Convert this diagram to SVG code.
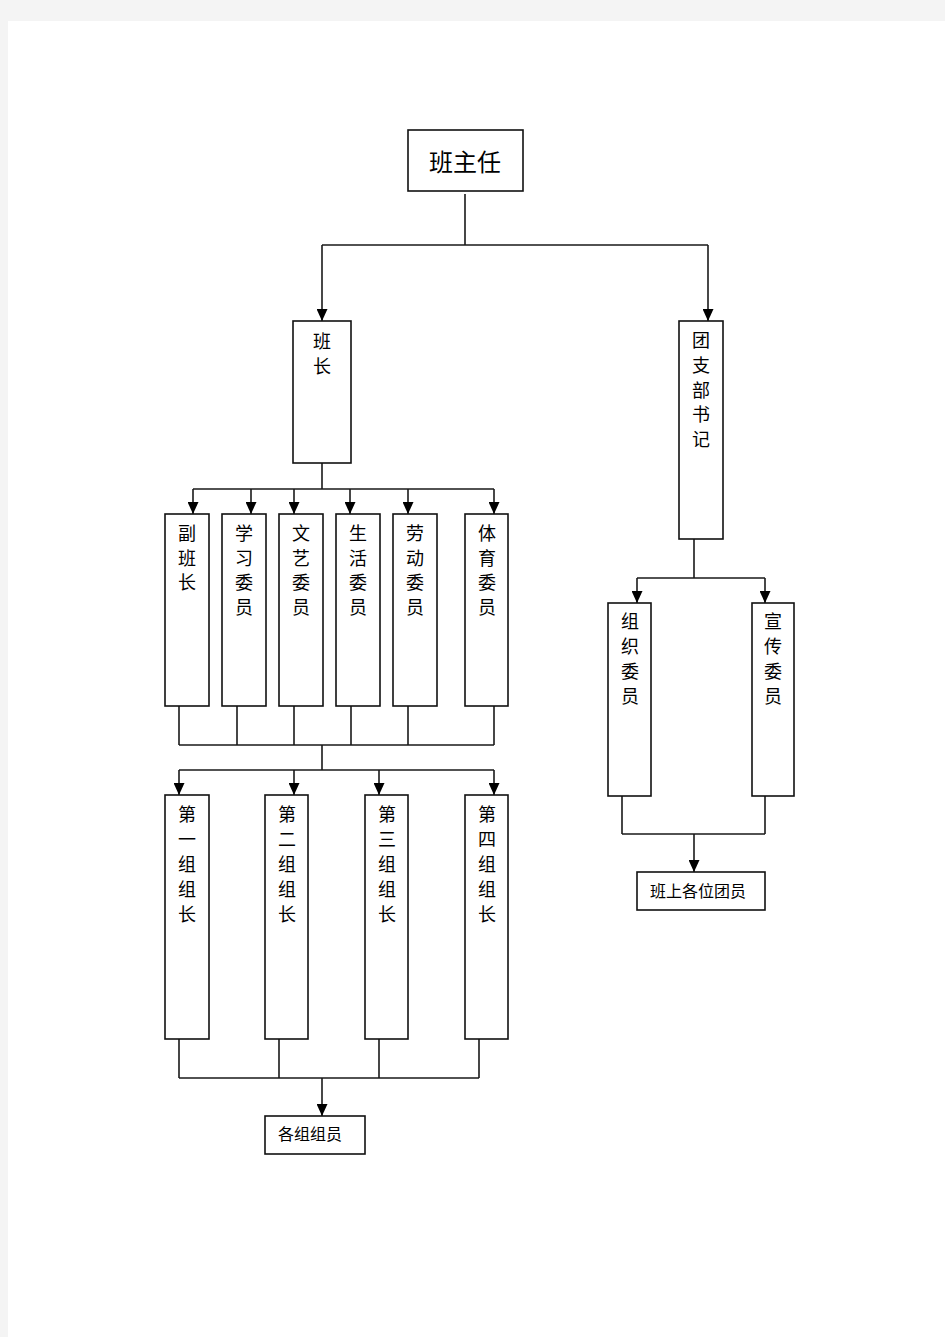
<svg xmlns="http://www.w3.org/2000/svg" width="945" height="1337" viewBox="0 0 945 1337">
<style>
.box{fill:#fff;stroke:#111;stroke-width:1.6}
.ln{fill:none;stroke:#1a1a1a;stroke-width:1.6}
.arr{fill:none;stroke:#1a1a1a;stroke-width:1.6;marker-end:url(#ah)}
.t{font-family:"Liberation Serif","Noto Sans CJK SC",serif;font-size:18px;fill:#000;text-anchor:middle}
.big{font-family:"Liberation Serif","Noto Sans CJK SC",serif;font-size:24px;fill:#000;text-anchor:middle}
.s{font-family:"Liberation Sans","Noto Sans CJK SC",sans-serif;font-size:16px;fill:#000}
</style>
<defs>
<marker id="ah" markerUnits="userSpaceOnUse" markerWidth="12" markerHeight="11" refX="12" refY="5.5" orient="auto">
<path d="M0,0 L12,5.5 L0,11 z" fill="#000"/>
</marker>
</defs>
<rect x="0" y="0" width="945" height="1337" fill="#f4f4f4"/>
<rect x="8" y="21" width="937" height="1316" fill="#fff"/>

<g id="connectors">
<path class="ln" d="M465,194 V245 M322,245 H708"/>
<path class="arr" d="M322,245 V321"/>
<path class="arr" d="M708,245 V321"/>
<path class="ln" d="M322,463 V489 M193,489 H494"/>
<path class="arr" d="M193,489 V514"/>
<path class="arr" d="M251,489 V514"/>
<path class="arr" d="M294,489 V514"/>
<path class="arr" d="M350,489 V514"/>
<path class="arr" d="M408,489 V514"/>
<path class="arr" d="M494,489 V514"/>
<path class="ln" d="M179,706 V745 M237,706 V745 M294,706 V745 M351,706 V745 M408,706 V745 M494,706 V745 M179,745 H494 M322,745 V770 M179,770 H494"/>
<path class="arr" d="M179,770 V795"/>
<path class="arr" d="M294,770 V795"/>
<path class="arr" d="M379,770 V795"/>
<path class="arr" d="M494,770 V795"/>
<path class="ln" d="M179,1039 V1078 M279,1039 V1078 M379,1039 V1078 M479,1039 V1078 M179,1078 H479"/>
<path class="arr" d="M322,1078 V1116"/>
<path class="ln" d="M694,539 V578 M637,578 H765"/>
<path class="arr" d="M637,578 V603"/>
<path class="arr" d="M765,578 V603"/>
<path class="ln" d="M622,796 V834 M765,796 V834 M622,834 H765"/>
<path class="arr" d="M694,834 V872"/>
</g>

<g id="n-banzhuren">
<rect class="box" x="408" y="130" width="115" height="61"/>
<text class="big" x="465" y="171">班主任</text>
</g>

<g id="n-banzhang">
<rect class="box" x="293" y="321" width="58" height="142" stroke-width="2"/>
<text class="t" x="322" y="348">班</text>
<text class="t" x="322" y="373">长</text>
</g>

<g id="n-tuanzhibu">
<rect class="box" x="679" y="321" width="44" height="218"/>
<text class="t" x="701" y="347">团</text>
<text class="t" x="701" y="372">支</text>
<text class="t" x="701" y="397">部</text>
<text class="t" x="701" y="421">书</text>
<text class="t" x="701" y="446">记</text>
</g>

<g id="n-fubanzhang">
<rect class="box" x="165" y="514" width="44" height="192"/>
<text class="t" x="187" y="540">副</text>
<text class="t" x="187" y="565">班</text>
<text class="t" x="187" y="589">长</text>
</g>
<g id="n-xuexi">
<rect class="box" x="222" y="514" width="44" height="192"/>
<text class="t" x="244" y="540">学</text>
<text class="t" x="244" y="565">习</text>
<text class="t" x="244" y="589">委</text>
<text class="t" x="244" y="614">员</text>
</g>
<g id="n-wenyi">
<rect class="box" x="279" y="514" width="44" height="192"/>
<text class="t" x="301" y="540">文</text>
<text class="t" x="301" y="565">艺</text>
<text class="t" x="301" y="589">委</text>
<text class="t" x="301" y="614">员</text>
</g>
<g id="n-shenghuo">
<rect class="box" x="336" y="514" width="44" height="192"/>
<text class="t" x="358" y="540">生</text>
<text class="t" x="358" y="565">活</text>
<text class="t" x="358" y="589">委</text>
<text class="t" x="358" y="614">员</text>
</g>
<g id="n-laodong">
<rect class="box" x="393" y="514" width="44" height="192"/>
<text class="t" x="415" y="540">劳</text>
<text class="t" x="415" y="565">动</text>
<text class="t" x="415" y="589">委</text>
<text class="t" x="415" y="614">员</text>
</g>
<g id="n-tiyu">
<rect class="box" x="465" y="514" width="43" height="192"/>
<text class="t" x="487" y="540">体</text>
<text class="t" x="487" y="565">育</text>
<text class="t" x="487" y="589">委</text>
<text class="t" x="487" y="614">员</text>
</g>

<g id="n-zu1">
<rect class="box" x="165" y="795" width="44" height="244"/>
<text class="t" x="187" y="821">第</text>
<text class="t" x="187" y="846">一</text>
<text class="t" x="187" y="871">组</text>
<text class="t" x="187" y="896">组</text>
<text class="t" x="187" y="921">长</text>
</g>
<g id="n-zu2">
<rect class="box" x="265" y="795" width="43" height="244"/>
<text class="t" x="287" y="821">第</text>
<text class="t" x="287" y="846">二</text>
<text class="t" x="287" y="871">组</text>
<text class="t" x="287" y="896">组</text>
<text class="t" x="287" y="921">长</text>
</g>
<g id="n-zu3">
<rect class="box" x="365" y="795" width="43" height="244"/>
<text class="t" x="387" y="821">第</text>
<text class="t" x="387" y="846">三</text>
<text class="t" x="387" y="871">组</text>
<text class="t" x="387" y="896">组</text>
<text class="t" x="387" y="921">长</text>
</g>
<g id="n-zu4">
<rect class="box" x="465" y="795" width="43" height="244"/>
<text class="t" x="487" y="821">第</text>
<text class="t" x="487" y="846">四</text>
<text class="t" x="487" y="871">组</text>
<text class="t" x="487" y="896">组</text>
<text class="t" x="487" y="921">长</text>
</g>

<g id="n-gezuzuyuan">
<rect class="box" x="265" y="1116" width="100" height="38"/>
<text class="s" x="278" y="1140">各组组员</text>
</g>

<g id="n-zuzhi">
<rect class="box" x="608" y="603" width="43" height="193"/>
<text class="t" x="630" y="628">组</text>
<text class="t" x="630" y="653">织</text>
<text class="t" x="630" y="678">委</text>
<text class="t" x="630" y="703">员</text>
</g>
<g id="n-xuanchuan">
<rect class="box" x="752" y="603" width="42" height="193"/>
<text class="t" x="773" y="628">宣</text>
<text class="t" x="773" y="653">传</text>
<text class="t" x="773" y="678">委</text>
<text class="t" x="773" y="703">员</text>
</g>

<g id="n-tuanyuan">
<rect class="box" x="637" y="872" width="128" height="38"/>
<text class="s" x="650" y="897">班上各位团员</text>
</g>
</svg>
